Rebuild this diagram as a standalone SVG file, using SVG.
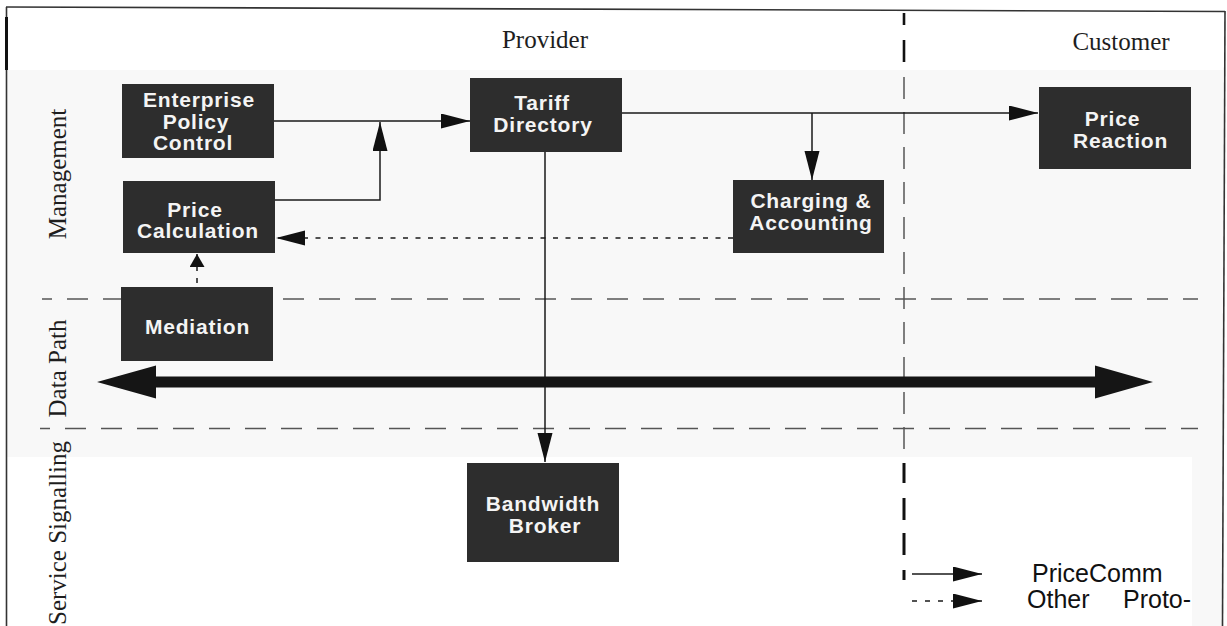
<svg xmlns="http://www.w3.org/2000/svg" width="1227" height="626" viewBox="0 0 1227 626">
<style>
.bg{fill:#f8f8f8}
.frame{stroke:#333;stroke-width:1.6;fill:none}
.box{fill:#2d2d2d}
.bt{font-family:"Liberation Sans",Arial,sans-serif;font-weight:bold;font-size:21px;letter-spacing:0.8px;fill:#f4f4f4;text-anchor:middle}
.lbl{font-family:"Liberation Serif","Times New Roman",serif;font-size:25px;fill:#1e1e1e}
.leg{font-family:"Liberation Sans",Arial,sans-serif;font-size:25px;fill:#111}
.con{stroke:#1a1a1a;stroke-width:1.5;fill:none}
.dot{stroke:#1a1a1a;stroke-width:1.5;fill:none;stroke-dasharray:5 7.5}
.lane{stroke:#555;stroke-width:1.5;fill:none;stroke-dasharray:21 15;stroke-dashoffset:11}
</style>
<defs>
<marker id="ah" markerUnits="userSpaceOnUse" markerWidth="30" markerHeight="16" refX="29" refY="7.5" orient="auto">
<path d="M0,0 L29,7.5 L0,15 z" fill="#111"/>
</marker>
<marker id="ahs" markerUnits="userSpaceOnUse" markerWidth="14" markerHeight="16" refX="13" refY="7.5" orient="auto">
<path d="M0,0 L13,7.5 L0,15 z" fill="#111"/>
</marker>
</defs>
<rect width="1227" height="626" fill="#fff"/>
<rect class="bg" x="7" y="70" width="1216" height="387"/>
<rect class="bg" x="1192" y="457" width="31" height="169"/>
<g id="frame">
<path class="frame" d="M6,7 L1225,11.5"/>
<path class="frame" d="M6.5,7 V626"/>
<path d="M6.5,17 V70" stroke="#111" stroke-width="3"/>
<path class="frame" d="M1225,11 L1222.5,626"/>
</g>
<g id="lanes">
<path class="lane" d="M42,299 H1198"/>
<path class="lane" d="M40,428.5 H1198"/>
<path d="M904,13 V25 M904,40 V62" stroke="#111" stroke-width="2.6"/>
<path d="M904,77 V450" stroke="#555" stroke-width="1.5" stroke-dasharray="22 13"/>
<path d="M904,463 V483 M904,498 V520 M904,533 V555 M904,570 V580" stroke="#111" stroke-width="3"/>
</g>
<g id="labels">
<text class="lbl" x="545" y="48" text-anchor="middle">Provider</text>
<text class="lbl" x="1121" y="50" text-anchor="middle">Customer</text>
<text class="lbl" transform="translate(66,174) rotate(-90)" text-anchor="middle">Management</text>
<text class="lbl" transform="translate(66,368.5) rotate(-90)" text-anchor="middle">Data Path</text>
<text class="lbl" transform="translate(66,533) rotate(-90)" text-anchor="middle">Service Signalling</text>
</g>
<g id="connectors">
<path class="con" d="M274,121 H470" marker-end="url(#ah)"/>
<path class="con" d="M275,200 H380 V122" marker-end="url(#ah)"/>
<path class="con" d="M622,113 H1038" marker-end="url(#ah)"/>
<path class="con" d="M812,113 V180" marker-end="url(#ah)"/>
<path class="con" d="M545,152 V462" marker-end="url(#ah)"/>
<path class="dot" d="M733,238 H276" marker-end="url(#ah)"/>
<path class="con" d="M197,287 V254" stroke-dasharray="5 7" stroke-dashoffset="8" marker-end="url(#ahs)"/>
<polygon id="datapath" points="97,382 156,365.5 156,376.5 1095,376.5 1095,365.5 1153,382 1095,398.5 1095,387.5 156,387.5 156,398.5" fill="#151515"/>
</g>
<g id="n-epc">
<rect class="box" x="122" y="84" width="152" height="74"/>
<text class="bt" x="199" y="107">Enterprise</text>
<text class="bt" x="196" y="129">Policy</text>
<text class="bt" x="193" y="150">Control</text>
</g>
<g id="n-pricecalc">
<rect class="box" x="123" y="181" width="152" height="72"/>
<text class="bt" x="195" y="217">Price</text>
<text class="bt" x="198" y="238">Calculation</text>
</g>
<g id="n-mediation">
<rect class="box" x="121" y="287" width="152" height="74"/>
<text class="bt" x="197.5" y="334">Mediation</text>
</g>
<g id="n-tariff">
<rect class="box" x="470" y="78" width="152" height="74"/>
<text class="bt" x="542" y="110">Tariff</text>
<text class="bt" x="543" y="132">Directory</text>
</g>
<g id="n-charging">
<rect class="box" x="733" y="180" width="151" height="73"/>
<text class="bt" x="811" y="208">Charging &amp;</text>
<text class="bt" x="811" y="230">Accounting</text>
</g>
<g id="n-pricereaction">
<rect class="box" x="1039" y="87" width="152" height="82"/>
<text class="bt" x="1112.5" y="126">Price</text>
<text class="bt" x="1120.5" y="147.5">Reaction</text>
</g>
<g id="n-bb">
<rect class="box" x="467" y="463" width="152" height="99"/>
<text class="bt" x="543" y="511">Bandwidth</text>
<text class="bt" x="545" y="533">Broker</text>
</g>
<g id="legend">
<path class="con" d="M912,574 H982" marker-end="url(#ah)"/>
<path class="con" d="M912,601 H982" stroke-dasharray="5 8" marker-end="url(#ah)"/>
<text class="leg" x="1032" y="582">PriceComm</text>
<text class="leg" y="608"><tspan x="1027">Other</tspan><tspan x="1123">Proto-</tspan></text>
</g>
</svg>
